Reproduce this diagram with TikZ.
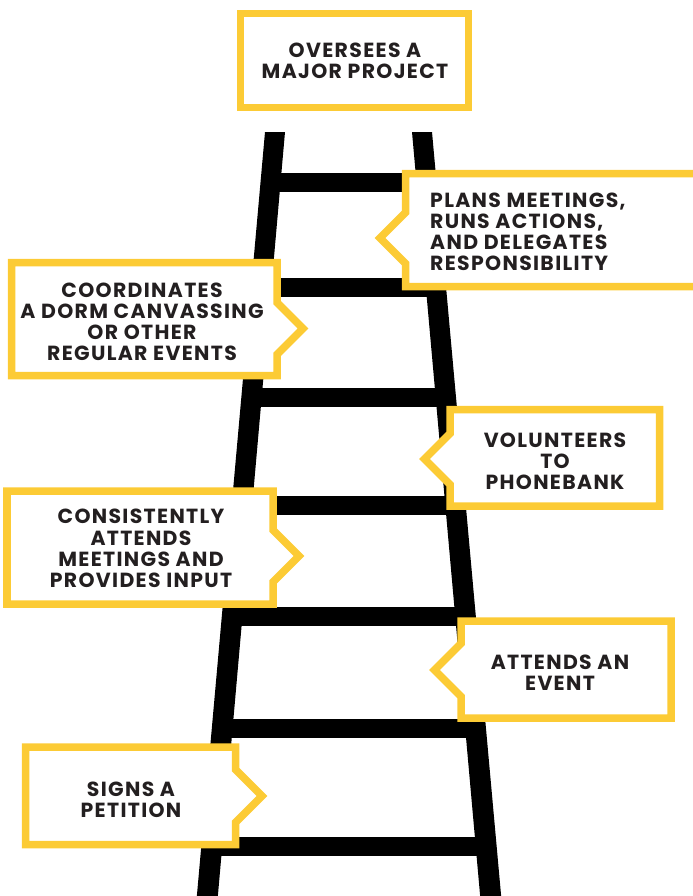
\documentclass[tikz,border=0pt]{standalone}
\usepackage{fontspec}
\setmainfont{Poppins}[LetterSpace=6.5]
\definecolor{ladyellow}{HTML}{FCCB35}
\definecolor{txt}{HTML}{231F20}
\tikzset{
  callout/.style={draw=ladyellow, line width=7.5bp, fill=white, miter limit=10},
  lbl/.style={text=txt, font=\bfseries\fontsize{20.5}{21.3}\selectfont, align=center, inner sep=0pt},
  lbll/.style={lbl, align=left},
  rail/.style={fill=black},
  rung/.style={fill=black}
}
\begin{document}
\begin{tikzpicture}[x=1bp,y=-1bp]
\useasboundingbox (0,0) rectangle (693,896);
\clip (0,0) rectangle (693,896);
% ladder rails
\fill[rail] (265,132) -- (285,132) -- (217.5,900) -- (196.5,900) -- cycle;
\fill[rail] (412,132) -- (432,132) -- (501.5,900) -- (480.5,900) -- cycle;
% rungs
\fill[rung] (270.5,173) rectangle (426.5,192);
\fill[rung] (261,278) rectangle (436,297);
\fill[rung] (251.4,388) rectangle (445.6,407);
\fill[rung] (241.8,496) rectangle (455.2,515);
\fill[rung] (231.9,607) rectangle (465.1,626);
\fill[rung] (222,719) rectangle (475,738);
\fill[rung] (211.5,837) rectangle (485.5,856);
% callouts
\draw[callout] (240.5,13.5) rectangle (468.5,107.5);
\node[lbl] (top) at (355,60.5) {OVERSEES A\\MAJOR PROJECT};

\draw[callout] (705,173.5) -- (405.5,173.5) -- (405.5,212.5) -- (380,238) -- (405.5,263.5) -- (405.5,286.5) -- (705,286.5) -- cycle;
\node[lbll, anchor=west] (plans) at (430,231.75) {PLANS MEETINGS,\\RUNS ACTIONS,\\AND DELEGATES\\RESPONSIBILITY};

\draw[callout] (11.5,262.5) -- (277,262.5) -- (277,302.5) -- (303,328.5) -- (277,354.5) -- (277,375.5) -- (11.5,375.5) -- cycle;
\node[lbl] (coord) at (142,321.75) {COORDINATES\\A DORM CANVASSING\\OR OTHER\\REGULAR EVENTS};

\draw[callout] (450,409.5) -- (659.5,409.5) -- (659.5,506) -- (450,506) -- (450,484.5) -- (424.5,459) -- (450,433.5) -- cycle;
\node[lbl] (vol) at (555,461.25) {VOLUNTEERS\\TO\\PHONEBANK};

\draw[callout] (7,491) -- (273,491) -- (273,530) -- (299,556) -- (273,582) -- (273,604) -- (7,604) -- cycle;
\node[lbl] (cons) at (141,548.5) {CONSISTENTLY\\ATTENDS\\MEETINGS AND\\PROVIDES INPUT};

\draw[callout] (461,621) -- (671,621) -- (671,718) -- (461,718) -- (461,696.5) -- (434.5,670) -- (461,643.5) -- cycle;
\node[lbl] (att) at (560,673) {ATTENDS AN\\EVENT};

\draw[callout] (25.5,747) -- (235.5,747) -- (235.5,769.5) -- (262,796) -- (235.5,822.5) -- (235.5,844.5) -- (25.5,844.5) -- cycle;
\node[lbl] (sign) at (131,799.75) {SIGNS A\\PETITION};
\end{tikzpicture}
\end{document}
